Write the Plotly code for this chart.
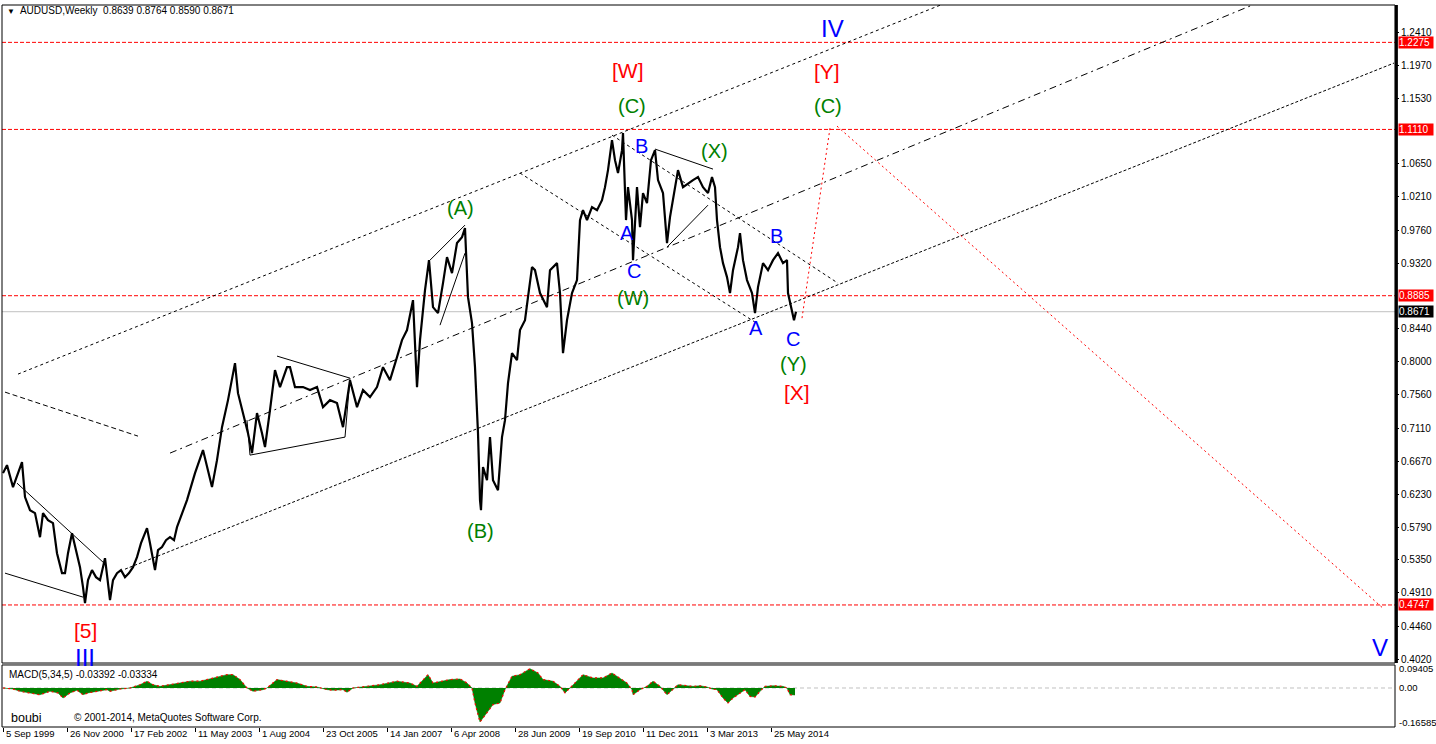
import plotly.graph_objects as go

# ---------------- data ----------------
price_week = [0, 4, 10, 19, 22, 27, 32, 37, 40, 45, 50, 54, 59, 62, 65, 69, 73, 77, 80, 82,
              85, 89, 93, 97, 102, 105, 107, 110, 114, 118, 122, 126, 130, 134, 138, 142, 144, 147, 152, 155,
              159, 163, 167, 171, 174, 184, 192, 200, 209, 214, 219, 225, 229, 232, 235, 240, 245, 249, 254, 259,
              262, 267, 272, 277, 284, 287, 292, 300, 307, 314, 320, 327, 334, 340, 347, 354, 360, 367, 374, 380,
              387, 394, 399, 404, 410, 414, 417, 422, 426, 430, 435, 440, 444, 449, 454, 459, 462, 465, 469, 472,
              474, 475, 477, 478, 480, 484, 487, 490, 495, 499, 502, 505, 509, 514, 517, 522, 525, 529, 532, 537,
              544, 547, 554, 557, 560, 564, 569, 574, 577, 580, 584, 589, 594, 599, 602, 605, 609, 612, 615, 619,
              620, 623, 625, 629, 630, 634, 637, 640, 644, 648, 652, 655, 660, 664, 667, 670, 675, 680, 685, 690,
              695, 700, 705, 709, 712, 714, 717, 720, 724, 727, 730, 735, 737, 740, 744, 749, 752, 755, 760, 765,
              770, 775, 780, 784, 785, 789, 791, 793]
price_close = [0.6511, 0.6618, 0.6324, 0.6658, 0.6190, 0.6016, 0.5976, 0.5654, 0.5976, 0.5882, 0.5842, 0.5440, 0.5173, 0.5173, 0.5440, 0.5708, 0.5480, 0.5253, 0.4985, 0.4771,
               0.5079, 0.5213, 0.5119, 0.5079, 0.5373, 0.5079, 0.4811, 0.5079, 0.5173, 0.5213, 0.5119, 0.5173, 0.5253, 0.5387, 0.5574, 0.5708, 0.5775, 0.5574, 0.5213, 0.5480,
               0.5521, 0.5614, 0.5654, 0.5614, 0.5788, 0.6150, 0.6511, 0.6819, 0.6324, 0.6685, 0.7126, 0.7488, 0.7796, 0.7983, 0.7581, 0.7314, 0.7046, 0.6779, 0.7314, 0.7046,
               0.6859, 0.7354, 0.7889, 0.7662, 0.7929, 0.7929, 0.7662, 0.7662, 0.7622, 0.7662, 0.7394, 0.7488, 0.7448, 0.7126, 0.7755, 0.7394, 0.7622, 0.7528, 0.7662, 0.7929,
               0.7755, 0.8063, 0.8291, 0.8425, 0.8826, 0.7662, 0.8291, 0.8960, 0.9361, 0.8732, 0.8652, 0.9053, 0.9401, 0.9187, 0.9589, 0.9669, 0.9790, 0.8866, 0.8518, 0.7929,
               0.7394, 0.7046, 0.6150, 0.6016, 0.6591, 0.6417, 0.6993, 0.6417, 0.6283, 0.6993, 0.7220, 0.7715, 0.8117, 0.8023, 0.8425, 0.8558, 0.8866, 0.9268, 0.9227, 0.8920,
               0.8732, 0.9227, 0.9321, 0.8920, 0.8117, 0.8558, 0.8920, 0.9094, 0.9897, 1.0030, 0.9897, 1.0071, 1.0030, 1.0164, 1.0338, 1.0566, 1.0967, 1.0699, 1.0526, 1.0833,
               1.1061, 0.9897, 1.0338, 0.9897, 0.9361, 1.0338, 0.9803, 1.0258, 1.0124, 1.0699, 1.0833, 1.0432, 1.0258, 0.9589, 0.9936, 1.0164, 1.0566, 1.0338, 1.0391, 1.0432,
               1.0472, 1.0338, 1.0258, 1.0472, 1.0338, 0.9897, 0.9535, 0.9321, 0.9134, 0.8920, 0.9227, 0.9535, 0.9723, 0.9361, 0.9094, 0.8920, 0.8652, 0.9000, 0.9321, 0.9227,
               0.9361, 0.9455, 0.9321, 0.9361, 0.8920, 0.8692, 0.8558, 0.8671]

macd_week = [0, 10, 17, 27, 37, 47, 55, 60, 67, 74, 80, 85, 94, 104, 107, 117, 127, 137, 144, 150,
             157, 167, 177, 187, 197, 210, 224, 230, 237, 244, 250, 260, 264, 274, 284, 294, 304, 314, 324, 330,
             340, 344, 350, 364, 377, 394, 407, 414, 425, 430, 440, 447, 457, 464, 469, 472, 477, 484, 490, 497,
             502, 509, 517, 527, 535, 540, 550, 557, 562, 567, 570, 580, 590, 600, 609, 617, 624, 629, 630, 637,
             644, 650, 657, 664, 670, 675, 684, 690, 697, 704, 709, 714, 720, 725, 730, 737, 742, 747, 752, 757,
             762, 770, 780, 784, 787, 792]
macd_value = [0.0, -0.005, -0.016, -0.024, -0.033, -0.016, -0.024, -0.049, -0.024, -0.011, -0.033, -0.024, -0.016, -0.008, -0.016, -0.005, 0.0, 0.016, 0.033, 0.016,
              0.008, 0.016, 0.024, 0.033, 0.033, 0.049, 0.065, 0.065, 0.041, 0.0, -0.016, -0.008, 0.0, 0.041, 0.033, 0.024, 0.008, 0.005, -0.008, -0.011,
              -0.008, -0.021, 0.0, 0.008, 0.016, 0.033, 0.024, 0.008, 0.065, 0.024, 0.033, 0.041, 0.044, 0.024, 0.0, -0.073, -0.1659, -0.122, -0.081, -0.073,
              -0.008, 0.057, 0.065, 0.0941, 0.073, 0.041, 0.033, 0.008, -0.024, 0.0, 0.016, 0.065, 0.049, 0.049, 0.073, 0.049, 0.024, -0.008, -0.033, -0.008,
              0.008, 0.033, 0.008, -0.033, -0.008, 0.016, 0.011, 0.008, 0.011, 0.005, -0.005, -0.008, -0.049, -0.073, -0.049, -0.024, -0.008, -0.041, -0.044, -0.016,
              0.008, 0.011, 0.008, 0.0, -0.033, -0.034]

price_tick_vals = [1.2410, 1.1970, 1.1530, 1.0650, 1.0210, 0.9760, 0.9320, 0.8440, 0.8000, 0.7560,
                   0.7110, 0.6670, 0.6230, 0.5790, 0.5350, 0.4910, 0.4460, 0.4020]
level_prices = [1.2275, 1.1110, 0.8885, 0.4747]
last_price = 0.8671
macd_max, macd_min = 0.09405, -0.16585
date_tick_weeks = [0, 64, 128, 192, 256, 320, 384, 448, 512, 576, 640, 704, 768]
date_tick_labels = ["5 Sep 1999", "26 Nov 2000", "17 Feb 2002", "11 May 2003", "1 Aug 2004",
                    "23 Oct 2005", "14 Jan 2007", "6 Apr 2008", "28 Jun 2009", "19 Sep 2010",
                    "11 Dec 2011", "3 Mar 2013", "25 May 2014"]

# analyst trendlines: (week0, price0, week1, price1, kind)
trendlines = [
    (15, 0.7836, 944, 1.2809, "ch_upper"),
    (167, 0.6779, 1254, 1.2800, "ch_mid"),
    (122, 0.5226, 1391, 1.1998, "ch_lower"),
    (2, 0.7595, 135, 0.7006, "dash"),
    (517, 1.0526, 752, 0.8532, "dot"),
    (609, 1.1034, 835, 0.9053, "dot"),
    (2, 0.5173, 80, 0.4852, "solid"),
    (14, 0.6377, 100, 0.5320, "solid"),
    (274, 0.8077, 347, 0.7782, "solid"),
    (247, 0.6752, 342, 0.6993, "solid"),
    (342, 0.6993, 347, 0.7782, "solid"),
    (244, 0.7220, 247, 0.6752, "solid"),
    (427, 0.9361, 462, 0.9830, "solid"),
    (437, 0.8491, 462, 0.9455, "solid"),
    (652, 1.0847, 710, 1.0579, "solid"),
    (664, 0.9535, 705, 1.0097, "solid"),
    (799, 0.8585, 827, 1.1128, "red"),
    (834, 1.1154, 1380, 0.4704, "red"),
]

RED, GREEN, BLUE = "#FF0000", "#008000", "#0000FF"
wave_labels = [
    (82, 0.4410, "[5]", RED, 21), (82, 0.4049, "III", BLUE, 24),
    (457, 1.0057, "(A)", GREEN, 20), (477, 0.5735, "(B)", GREEN, 20),
    (625, 1.1904, "[W]", RED, 21), (629, 1.1422, "(C)", GREEN, 20),
    (638, 1.0887, "B", BLUE, 20), (624, 0.9723, "A", BLUE, 20),
    (631, 0.9214, "C", BLUE, 20), (630, 0.8853, "(W)", GREEN, 20),
    (711, 1.0820, "(X)", GREEN, 20), (773, 0.9682, "B", BLUE, 20),
    (753, 0.8451, "A", BLUE, 20), (790, 0.8304, "C", BLUE, 20),
    (790, 0.7970, "(Y)", GREEN, 20), (794, 0.7595, "[X]", RED, 21),
    (829, 1.2466, "IV", BLUE, 24), (824, 1.1890, "[Y]", RED, 21),
    (825, 1.1422, "(C)", GREEN, 20), (1377, 0.4182, "V", BLUE, 24),
]

# ---------------- figure ----------------
FONT = "Liberation Sans, Arial, sans-serif"
X_RANGE = [-1, 1392]
P_DOM = [0.0886, 1.0]
M_DOM = [0.0, 0.0859]

styles = {
    "ch_upper": dict(color="black", width=1, dash="3px,3px"),
    "ch_mid": dict(color="black", width=1, dash="7px,4px,2px,4px"),
    "ch_lower": dict(color="black", width=1, dash="3px,2px"),
    "dash": dict(color="black", width=1, dash="5px,3px"),
    "dot": dict(color="black", width=1, dash="3px,3px"),
    "solid": dict(color="black", width=1),
    "red": dict(color=RED, width=1, dash="2px,3px"),
}

fig = go.Figure()

for lv in level_prices:
    fig.add_trace(go.Scatter(x=X_RANGE, y=[lv, lv], mode="lines", xaxis="x", yaxis="y",
                             line=dict(color=RED, width=1, dash="4px,2px"), hoverinfo="skip"))
fig.add_trace(go.Scatter(x=X_RANGE, y=[last_price, last_price], mode="lines", xaxis="x", yaxis="y",
                         line=dict(color="#C0C0C0", width=1), hoverinfo="skip"))

for w0, p0, w1, p1, kind in trendlines:
    fig.add_trace(go.Scatter(x=[w0, w1], y=[p0, p1], mode="lines", xaxis="x", yaxis="y",
                             line=styles[kind], hoverinfo="skip"))

fig.add_trace(go.Scatter(x=price_week, y=price_close, mode="lines", xaxis="x", yaxis="y",
                         line=dict(color="black", width=2.2)))

fig.add_trace(go.Scatter(x=X_RANGE, y=[0, 0], mode="lines", xaxis="x", yaxis="y2",
                         line=dict(color="#C0C0C0", width=1, dash="4px,3px"), hoverinfo="skip"))
fig.add_trace(go.Scatter(x=macd_week, y=macd_value, mode="lines", xaxis="x", yaxis="y2",
                         fill="tozeroy", fillcolor=GREEN, line=dict(color=GREEN, width=0.5)))
fig.add_trace(go.Scatter(x=macd_week, y=macd_value, mode="lines", xaxis="x", yaxis="y2",
                         line=dict(color=RED, width=1.2, dash="2px,3px")))

ann = []
for w, p, t, c, s in wave_labels:
    ann.append(dict(x=w, y=p, xref="x", yref="y", text=t, showarrow=False,
                    font=dict(family=FONT, size=s, color=c), xanchor="center", yanchor="middle"))

for lv in level_prices:
    ann.append(dict(x=1.0022, y=lv, xref="paper", yref="y", text=f"{lv:.4f}", showarrow=False,
                    xanchor="left", yanchor="middle", bgcolor=RED, width=34, height=11, align="left",
                    borderpad=0, font=dict(family=FONT, size=10, color="white")))
ann.append(dict(x=1.0022, y=last_price, xref="paper", yref="y", text=f"{last_price:.4f}", showarrow=False,
                xanchor="left", yanchor="middle", bgcolor="black", width=34, height=11, align="left",
                borderpad=0, font=dict(family=FONT, size=10, color="white")))

for v, t in [(macd_max, "0.09405"), (0.0, "0.00"), (macd_min, "-0.16585")]:
    ann.append(dict(x=1.0012, y=v, xref="paper", yref="y2", text=t, showarrow=False,
                    xanchor="left", yanchor="middle", font=dict(family=FONT, size=9.5, color="black")))

for w, t in zip(date_tick_weeks, date_tick_labels):
    ann.append(dict(x=w + 1, y=-0.0085, xref="x", yref="paper", text=t, showarrow=False,
                    xanchor="left", yanchor="middle", font=dict(family=FONT, size=9.5, color="black")))

ann.append(dict(x=0.002, y=0.993, xref="paper", yref="paper",
                text="<span style='font-size:8px'>▼</span>  AUDUSD,Weekly  0.8639 0.8764 0.8590 0.8671",
                showarrow=False, xanchor="left", yanchor="middle",
                font=dict(family=FONT, size=10, color="black")))
ann.append(dict(x=0.0036, y=0.0734, xref="paper", yref="paper", text="MACD(5,34,5) -0.03392 -0.03334",
                showarrow=False, xanchor="left", yanchor="middle", font=dict(family=FONT, size=10, color="black")))
ann.append(dict(x=0.0050, y=0.0125, xref="paper", yref="paper", text="boubi",
                showarrow=False, xanchor="left", yanchor="middle", font=dict(family=FONT, size=12.5, color="black")))
ann.append(dict(x=0.0502, y=0.0125, xref="paper", yref="paper", text="© 2001-2014, MetaQuotes Software Corp.",
                showarrow=False, xanchor="left", yanchor="middle", font=dict(family=FONT, size=10, color="black")))

shapes = [
    dict(type="rect", xref="paper", yref="paper", x0=0, x1=1, y0=P_DOM[0], y1=P_DOM[1],
         line=dict(color="black", width=1)),
    dict(type="rect", xref="paper", yref="paper", x0=0, x1=1, y0=M_DOM[0], y1=M_DOM[1],
         line=dict(color="black", width=1)),
    dict(type="line", xref="paper", yref="paper", x0=1.001, x1=1.001, y0=P_DOM[0], y1=P_DOM[1],
         line=dict(color="black", width=3)),
]

fig.update_layout(
    width=1436, height=744,
    margin=dict(l=2, r=41, t=5, b=17),
    paper_bgcolor="white", plot_bgcolor="white",
    showlegend=False,
    font=dict(family=FONT, size=10, color="black"),
    xaxis=dict(domain=[0, 1], range=X_RANGE, anchor="y2", showgrid=False, zeroline=False,
               showline=False, tickvals=date_tick_weeks, ticktext=[""] * len(date_tick_weeks),
               ticks="outside", ticklen=4, tickcolor="black", automargin=False),
    yaxis=dict(domain=P_DOM, range=[0.3970, 1.2775], anchor="x", side="right",
               tickvals=price_tick_vals, ticktext=[f"{v:.4f}" for v in price_tick_vals],
               ticks="outside", ticklen=3, tickcolor="black", showgrid=False, zeroline=False,
               showline=False, automargin=False, tickfont=dict(family=FONT, size=10, color="black")),
    yaxis2=dict(domain=M_DOM, range=[-0.1902, 0.1122], anchor="x", side="right",
                showticklabels=False, ticks="", showgrid=False, zeroline=False, showline=False,
                automargin=False),
    annotations=ann, shapes=shapes,
)

fig.write_html("out.html", config={"displayModeBar": False},
               post_script="document.body.style.margin='0';document.body.style.overflow='hidden';")
